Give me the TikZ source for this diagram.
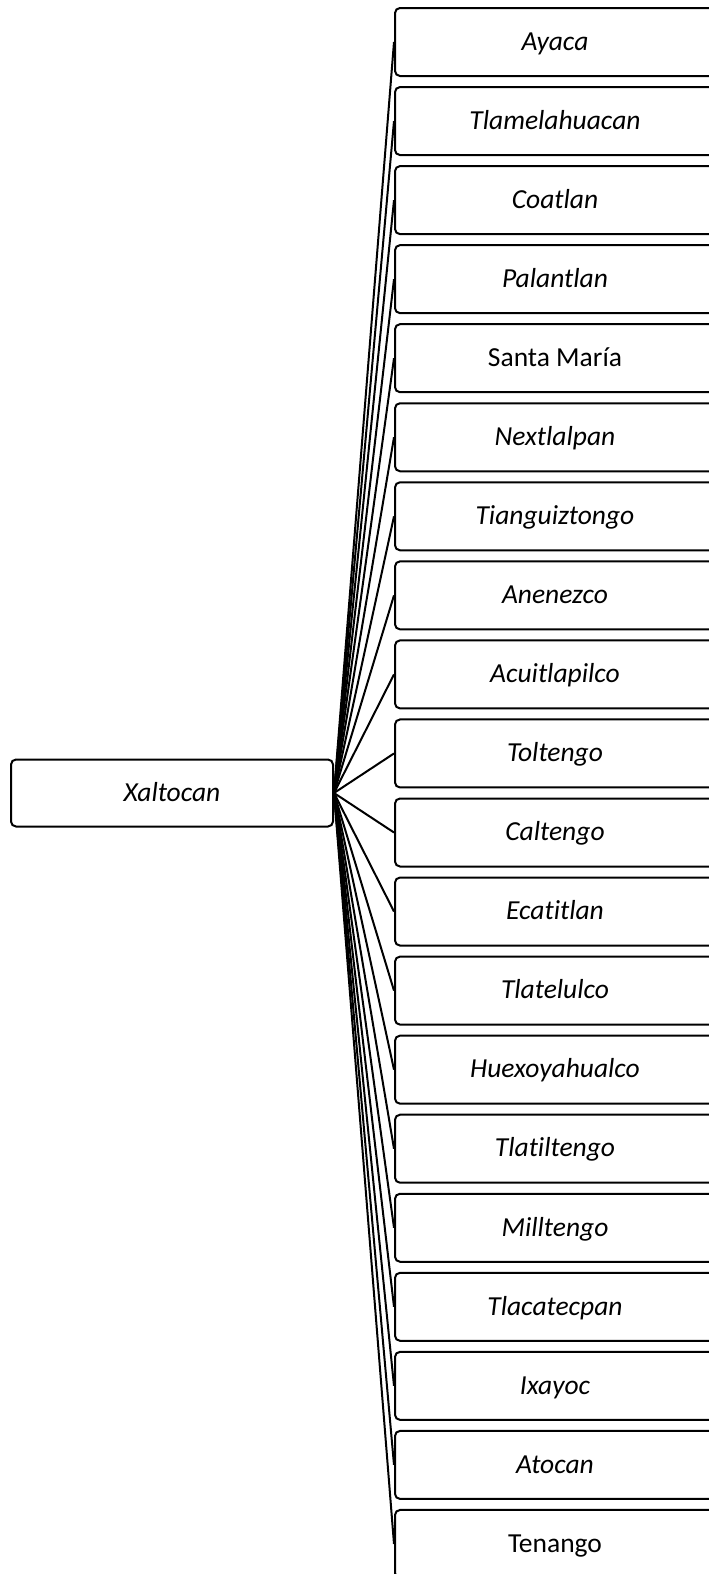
\documentclass[tikz,border=0pt]{standalone}
\usepackage{fontspec}
\setmainfont{Carlito}[Ligatures={NoCommon}]
\begin{document}
\begin{tikzpicture}[x=1pt,y=-1pt,
  box/.style={draw, line width=2pt, rounded corners=5pt, minimum width=320pt, minimum height=68pt, inner sep=0pt, text height=16.5pt, text depth=0pt, font=\fontsize{27.5}{31}\selectfont\itshape},
  rootbox/.style={box, minimum width=322pt, minimum height=67pt},
  link/.style={line width=2pt}]
\useasboundingbox (0,0) rectangle (709,1574);
\clip (0,0) rectangle (709,1574);
\node[rootbox] (x) at (172,793) {Xaltocan};
\foreach \t [count=\i] in {Ayaca,Tlamelahuacan,Coatlan,Palantlan,{\upshape Santa María},Nextlalpan,Tianguiztongo,Anenezco,Acuitlapilco,Toltengo,Caltengo,Ecatitlan,Tlatelulco,Huexoyahualco,Tlatiltengo,Milltengo,Tlacatecpan,Ixayoc,Atocan,{\upshape Tenango}}{
  \node[box] (b\i) at (555,{42+(\i-1)*79.05}) {\t};
  \draw[link] (x.east) -- (b\i.west);
}
\end{tikzpicture}
\end{document}
